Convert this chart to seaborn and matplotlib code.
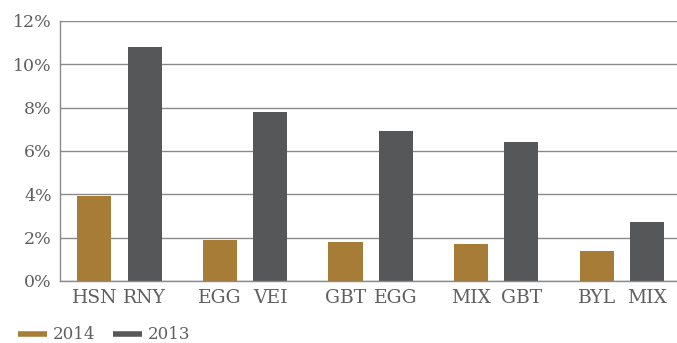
import pandas as pd
import matplotlib
matplotlib.use('Agg')
import matplotlib.pyplot as plt
import seaborn as sns
from matplotlib.lines import Line2D

# Data
groups = [0, 1, 2, 3, 4]
labels_2014 = ['HSN', 'EGG', 'GBT', 'MIX', 'BYL']
labels_2013 = ['RNY', 'VEI', 'EGG', 'GBT', 'MIX']
values_2014 = [3.9, 1.9, 1.8, 1.7, 1.4]
values_2013 = [10.8, 7.8, 6.9, 6.4, 2.7]
years = ['2014', '2013']
colors = {'2014': '#A67C37', '2013': '#565759'}

df = pd.DataFrame({
    'group': groups * 2,
    'year': ['2014'] * len(groups) + ['2013'] * len(groups),
    'value': values_2014 + values_2013,
})

sns.set_style('white')
plt.rcParams['font.family'] = ['DejaVu Serif']
text_col = '#5f5f5f'
grid_col = '#8a8a8a'

fig = plt.figure(figsize=(6.77, 3.43), dpi=100)
ax = fig.add_axes([0.0886, 0.181, 0.9114, 0.758])

sns.barplot(data=df, x='group', y='value', hue='year', hue_order=years,
            palette=colors, width=0.8, gap=0.32, saturation=1,
            linewidth=0, edgecolor='none', legend=False, ax=ax)

ax.set_ylim(0, 12)
ax.set_yticks(range(0, 13, 2))
ax.set_yticklabels([f'{v}%' for v in range(0, 13, 2)], fontsize=12.5, color=text_col)
ax.yaxis.grid(True, color=grid_col, linewidth=1)
ax.set_axisbelow(True)

ticks, ticklabels = [], []
for g, a, b in zip(groups, labels_2014, labels_2013):
    ticks += [g - 0.2, g + 0.2]
    ticklabels += [a, b]
ax.set_xticks(ticks)
ax.set_xticklabels(ticklabels, fontsize=13.5, color=text_col)
ax.set_xlim(-0.474, 4.44)
ax.tick_params(axis='y', length=0, pad=6)
ax.tick_params(axis='x', length=0, pad=6)
ax.set_xlabel('')
ax.set_ylabel('')

for side in ['top', 'right']:
    ax.spines[side].set_visible(False)
for side in ['left', 'bottom']:
    ax.spines[side].set_color(grid_col)
    ax.spines[side].set_linewidth(1)

handles = [Line2D([0], [0], color=colors[y], linewidth=4, solid_capstyle='butt')
           for y in years]
fig.legend(handles, years, loc='lower left', bbox_to_anchor=(0.005, -0.045),
           ncol=2, frameon=False, fontsize=12, handlelength=1.7,
           columnspacing=1.1, handletextpad=0.35, labelcolor=text_col)

plt.savefig('out.png', dpi=100)
